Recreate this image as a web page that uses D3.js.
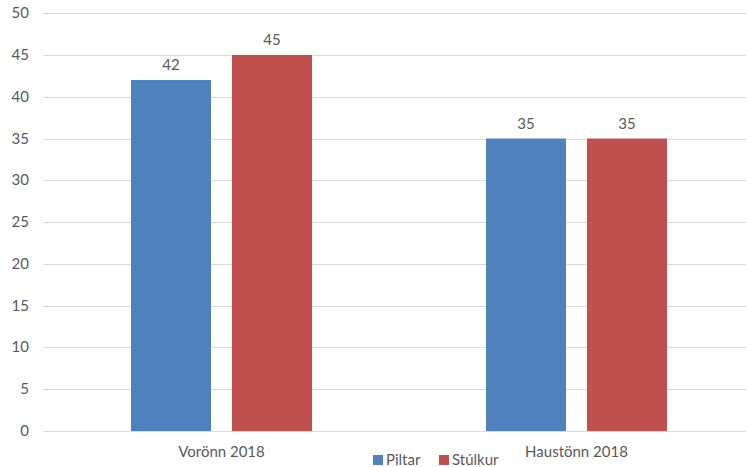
<!DOCTYPE html>
<html><head><meta charset="utf-8">
<script src="https://cdn.jsdelivr.net/npm/d3@7"></script>
<style>body{margin:0;background:#fff;} text{font-family:Lato,"Open Sans",sans-serif;fill:#595959;}</style>
</head><body>
<svg id="c" width="746" height="467"></svg>
<script>
const categories = ["Vorönn 2018", "Haustönn 2018"];
const seriesNames = ["Piltar", "Stúlkur"];
const piltar = [42, 35];
const stulkur = [45, 35];
const yTicks = [0,5,10,15,20,25,30,35,40,45,50];
const colors = ["#4f81bd", "#c0504d"];

const seriesValues = [piltar, stulkur];
const svg = d3.select("#c");
const y = d3.scaleLinear().domain([0,50]).range([431,13.2]);
const x0 = d3.scaleBand().domain(categories).range([44,754]).paddingInner(0).paddingOuter(0);
const bw = x0.bandwidth();
const x1 = d3.scaleBand().domain(seriesNames).range([bw/2-90.5, bw/2+90.5]).paddingInner(0.208).paddingOuter(0);
const fs = "15px";

// grid
svg.append("g").selectAll("line").data(yTicks).join("line")
  .attr("x1",43).attr("x2",746)
  .attr("y1",d=>Math.round(y(d))+0.5).attr("y2",d=>Math.round(y(d))+0.5)
  .attr("stroke","#d9d9d9").attr("stroke-width",1);
// y labels
svg.append("g").selectAll("text").data(yTicks).join("text")
  .attr("x",29).attr("y",d=>y(d)+5).attr("text-anchor","end")
  .attr("font-size",fs).text(d=>d);

// bars
categories.forEach((c,i)=>{
  const g = svg.append("g").attr("transform",`translate(${x0(c)},0)`);
  seriesNames.forEach((s,j)=>{
    const v = seriesValues[j][i];
    g.append("rect").attr("x",x1(s)).attr("width",x1.bandwidth())
      .attr("y",y(v)).attr("height",y(0)-y(v)).attr("fill",colors[j]);
    g.append("text").attr("x",x1(s)+x1.bandwidth()/2).attr("y",y(v)-10)
      .attr("text-anchor","middle").attr("font-size",fs).text(v);
  });
});
// zero line on top
svg.append("line").attr("x1",43).attr("x2",746).attr("y1",431.5).attr("y2",431.5)
  .attr("stroke","#d9d9d9");

// category labels
svg.append("g").selectAll("text").data(categories).join("text")
  .attr("x",d=>x0(d)+bw/2).attr("y",457).attr("text-anchor","middle")
  .attr("font-size",fs).text(d=>d);

// legend
const lg = svg.append("g");
const legX = [373, 439];
seriesNames.forEach((s,j)=>{
  lg.append("rect").attr("x",legX[j]).attr("y",455).attr("width",10).attr("height",10).attr("fill",colors[j]);
  lg.append("text").attr("x",legX[j]+13).attr("y",465).attr("font-size",fs).text(s);
});
</script>
</body></html>
